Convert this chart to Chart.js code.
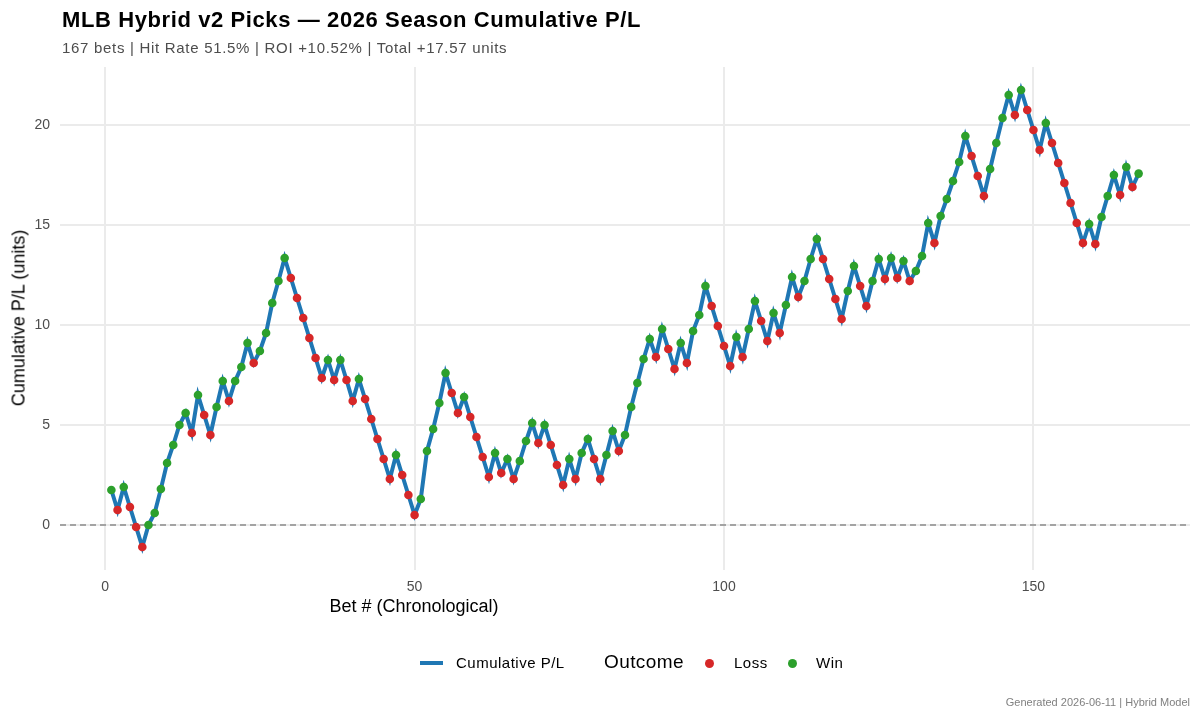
<!DOCTYPE html>
<html>
<head>
<meta charset="utf-8">
<script src="https://cdn.jsdelivr.net/npm/chart.js@4/dist/chart.umd.min.js"></script>
<style>
  body { margin: 0; background: #fff; font-family: "Liberation Sans", Arial, sans-serif; }
  #wrap { position: relative; width: 1200px; height: 720px; }
  canvas { position: absolute; left: 0; top: 0; }
  .t { position: absolute; white-space: nowrap; }
  .dot { position: absolute; width: 9px; height: 9px; border-radius: 50%; }
</style>
</head>
<body>
<div id="wrap">
  <canvas id="c" width="1200" height="720"></canvas>
  <div class="t" style="left:62px;top:7px;font-size:22px;letter-spacing:0.6px;font-weight:bold;color:#000">MLB Hybrid v2 Picks — 2026 Season Cumulative P/L</div>
  <div class="t" style="left:62px;top:39px;font-size:15px;letter-spacing:0.7px;color:#4d4d4d">167 bets | Hit Rate 51.5% | ROI +10.52% | Total +17.57 units</div>
  <div class="t" style="left:8px;top:318px;font-size:18px;color:#000;transform:translate(-50%,-50%) rotate(-90deg);margin-left:11px">Cumulative P/L (units)</div>
  <div class="t" style="left:414px;top:596px;font-size:18px;color:#000;transform:translateX(-50%)">Bet # (Chronological)</div>
  <span class="t" style="left:420px;top:661px;width:23px;height:4px;background:#1f77b4"></span>
  <span class="t" style="left:456px;top:654px;font-size:15px;letter-spacing:0.5px;color:#000">Cumulative P/L</span>
  <span class="t" style="left:604px;top:651px;font-size:19px;letter-spacing:0.4px;color:#000">Outcome</span>
  <span class="dot" style="left:705px;top:659px;background:#d62728"></span>
  <span class="t" style="left:734px;top:654px;font-size:15px;letter-spacing:0.5px;color:#000">Loss</span>
  <span class="dot" style="left:788px;top:659px;background:#2ca02c"></span>
  <span class="t" style="left:816px;top:654px;font-size:15px;letter-spacing:0.5px;color:#000">Win</span>
  <div class="t" style="right:10px;top:696px;font-size:11px;color:#808080">Generated 2026-06-11 | Hybrid Model</div>
</div>
<script>
// Cumulative P/L after each bet
const cumPL = [
  1.75, 0.75, 1.9, 0.9, -0.1, -1.1, 0.0, 0.6, 1.8, 3.1,
  4.0, 5.0, 5.6, 4.6, 6.5, 5.5, 4.5, 5.9, 7.2, 6.2,
  7.2, 7.9, 9.1, 8.1, 8.7, 9.6, 11.1, 12.2, 13.35, 12.35,
  11.35, 10.35, 9.35, 8.35, 7.35, 8.25, 7.25, 8.25, 7.25, 6.2,
  7.3, 6.3, 5.3, 4.3, 3.3, 2.3, 3.5, 2.5, 1.5, 0.5,
  1.3, 3.7, 4.8, 6.1, 7.6, 6.6, 5.6, 6.4, 5.4, 4.4,
  3.4, 2.4, 3.6, 2.6, 3.3, 2.3, 3.2, 4.2, 5.1, 4.1,
  5.0, 4.0, 3.0, 2.0, 3.3, 2.3, 3.6, 4.3, 3.3, 2.3,
  3.5, 4.7, 3.7, 4.5, 5.9, 7.1, 8.3, 9.3, 8.4, 9.8,
  8.8, 7.8, 9.1, 8.1, 9.7, 10.5, 11.95, 10.95, 9.95, 8.95,
  7.95, 9.4, 8.4, 9.8, 11.2, 10.2, 9.2, 10.6, 9.6, 11.0,
  12.4, 11.4, 12.2, 13.3, 14.3, 13.3, 12.3, 11.3, 10.3, 11.7,
  12.95, 11.95, 10.95, 12.2, 13.3, 12.3, 13.35, 12.35, 13.2, 12.2,
  12.7, 13.45, 15.1, 14.1, 15.45, 16.3, 17.2, 18.15, 19.45, 18.45,
  17.45, 16.45, 17.8, 19.1, 20.35, 21.5, 20.5, 21.75, 20.75, 19.75,
  18.75, 20.1, 19.1, 18.1, 17.1, 16.1, 15.1, 14.1, 15.05, 14.05,
  15.4, 16.45, 17.5, 16.5, 17.9, 16.9, 17.57
];
// Outcome of each bet: W = win, L = loss
const outcomes = (
  "WLWLLLWWWW" + "WWWLWLLWWL" + "WWWLWWWWWL" + "LLLLLWLWLL" + "WLLLLLWLLL" +
  "WWWWWLLWLL" + "LLWLWLWWWL" + "WLLLWLWWLL" + "WWLWWWWWLW" + "LLWLWWWLLL" +
  "LWLWWLLWLW" + "WLWWWLLLLW" + "WLLWWLWLWL" + "WWWLWWWWWL" + "LLWWWWLWLL" +
  "LWLLLLLLWL" + "WWWLWLW"
).split("");
const xTicks = [0, 50, 100, 150];
const yTicks = [0, 5, 10, 15, 20];

const bets = cumPL.map((v, i) => ({ x: i + 1, y: v }));
const pointColors = outcomes.map(o => (o === "W" ? "#2ca02c" : "#d62728"));

// dashed reference line at zero
const zeroLine = {
  id: "zeroLine",
  beforeDatasetsDraw(chart) {
    const { ctx, chartArea, scales } = chart;
    const y = scales.y.getPixelForValue(0);
    ctx.save();
    ctx.strokeStyle = "#8c8c8c";
    ctx.lineWidth = 1.3;
    ctx.setLineDash([6, 4]);
    ctx.beginPath();
    ctx.moveTo(chartArea.left, y);
    ctx.lineTo(chartArea.right, y);
    ctx.stroke();
    ctx.restore();
  },
};

new Chart(document.getElementById("c"), {
  type: "line",
  data: {
    datasets: [
      {
        label: "Cumulative P/L",
        data: bets,
        borderColor: "#1f77b4",
        borderWidth: 4,
        tension: 0,
        pointStyle: "circle",
        pointRadius: 4.3,
        pointBorderWidth: 0,
        pointBackgroundColor: pointColors,
      },
    ],
  },
  options: {
    responsive: false,
    animation: false,
    layout: { padding: { left: 0, right: 10, top: 67, bottom: 0 } },
    plugins: { legend: { display: false }, tooltip: { enabled: false } },
    scales: {
      x: {
        type: "linear",
        min: -7.3,
        max: 175.3,
        afterBuildTicks: (s) => { s.ticks = xTicks.map(v => ({ value: v })); },
        afterFit: (s) => { s.height = 150; },
        border: { display: false },
        grid: { color: "#ebebeb", lineWidth: 2, drawTicks: false },
        ticks: { color: "#4d4d4d", font: { size: 14, family: "Liberation Sans" }, padding: 9 },
      },
      y: {
        min: -2.25,
        max: 22.9,
        afterBuildTicks: (s) => { s.ticks = yTicks.map(v => ({ value: v })); },
        afterFit: (s) => { s.width = 60; },
        border: { display: false },
        grid: { color: "#ebebeb", lineWidth: 2, drawTicks: false },
        ticks: { color: "#4d4d4d", font: { size: 14, family: "Liberation Sans" }, padding: 10 },
      },
    },
  },
  plugins: [zeroLine],
});
</script>
</body>
</html>
